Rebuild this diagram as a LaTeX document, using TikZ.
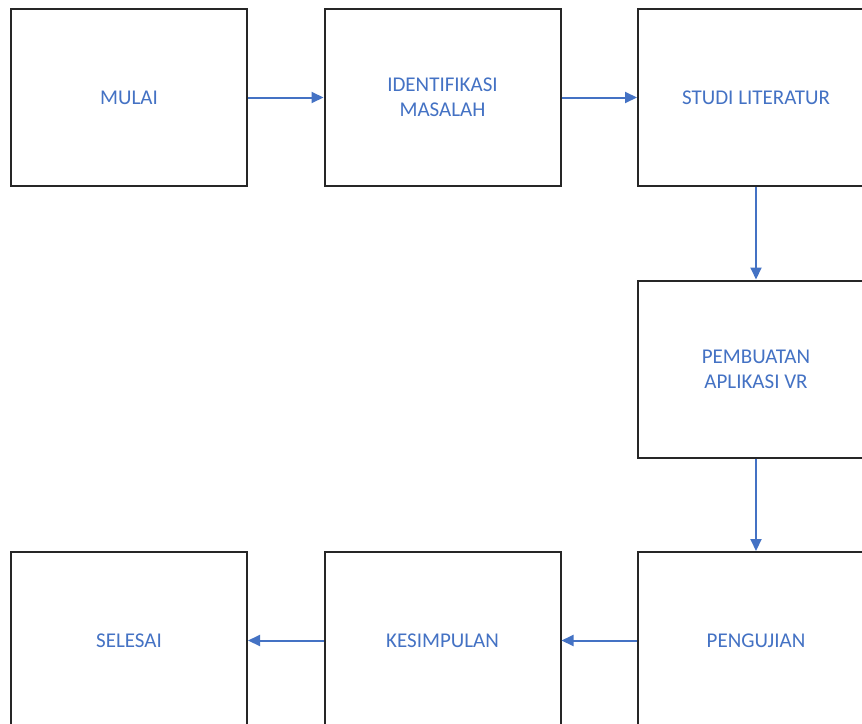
\documentclass[tikz,border=0pt]{standalone}
\usepackage{fontspec}
\setmainfont{Carlito}
\usetikzlibrary{arrows.meta}
\definecolor{boxblue}{HTML}{4472C4}
\definecolor{edge}{HTML}{262626}
\tikzset{
  stepbox/.style={draw=edge, line width=2pt, fill=white, minimum width=236pt, minimum height=177pt, inner sep=0pt, text=boxblue, align=center, font=\fontsize{21}{25}\selectfont},
  flow/.style={draw=boxblue, line width=2pt, -{Triangle[length=12pt,width=11pt]}}
}
\begin{document}
\begin{tikzpicture}[x=1pt,y=-1pt]
\useasboundingbox (0,0) rectangle (862,723);
\clip (0,0) rectangle (862,723);
\fill[white] (0,0) rectangle (862,723);
\node[stepbox] (mulai) at (129,97.5) {MULAI};
\node[stepbox] (ident) at (442.5,97.5) {IDENTIFIKASI\\MASALAH};
\node[stepbox] (studi) at (756,97.5) {STUDI LITERATUR};
\node[stepbox] (buat) at (756,369) {PEMBUATAN\\APLIKASI VR};
\node[stepbox] (uji) at (756,640.5) {PENGUJIAN};
\node[stepbox] (simpul) at (442.5,640.5) {KESIMPULAN};
\node[stepbox] (selesai) at (129,640.5) {SELESAI};
\draw[flow] (mulai) -- (ident);
\draw[flow] (ident) -- (studi);
\draw[flow] (studi) -- (buat);
\draw[flow] (buat) -- (uji);
\draw[flow] (uji) -- (simpul);
\draw[flow] (simpul) -- (selesai);
\end{tikzpicture}
\end{document}
